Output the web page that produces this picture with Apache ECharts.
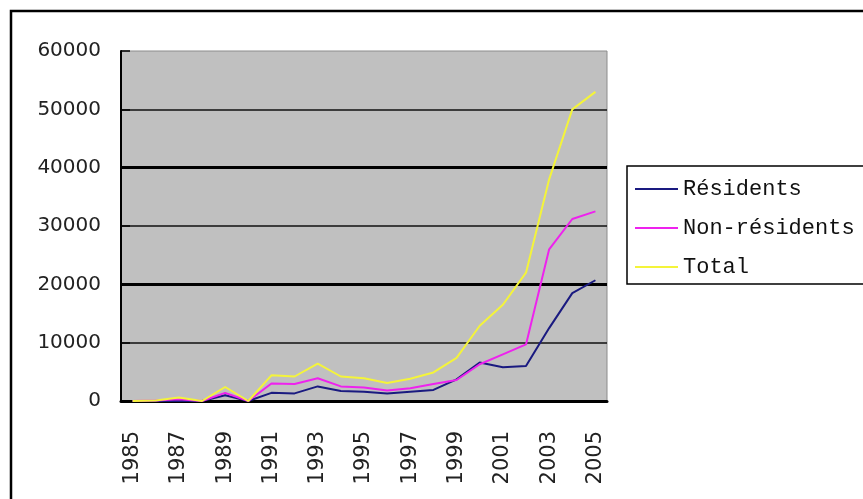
<!DOCTYPE html>
<html>
<head>
<meta charset="utf-8">
<script src="https://cdn.jsdelivr.net/npm/echarts@6/dist/echarts.min.js"></script>
<style>
  html, body { margin: 0; padding: 0; background: #ffffff; }
  #chart { width: 863px; height: 499px; }
</style>
</head>
<body>
<div id="chart"></div>
<script>
// Years on the category axis
const years = ['1985','1986','1987','1988','1989','1990','1991','1992','1993','1994','1995',
               '1996','1997','1998','1999','2000','2001','2002','2003','2004','2005'];

// Series values per year
const residents    = [0, 0, 0, 0, 1000, 0, 1400, 1300, 2500, 1700, 1600, 1300, 1600, 1900, 3700, 6600, 5800, 6000, 12500, 18500, 20700];
const nonResidents = [0, 100, 300, 0, 1400, 0, 3000, 2900, 3900, 2500, 2300, 1800, 2200, 2900, 3600, 6300, 8000, 9700, 26000, 31200, 32500];
const total        = [0, 100, 600, 0, 2400, 0, 4400, 4200, 6400, 4200, 3900, 3100, 3800, 4900, 7400, 12900, 16500, 22000, 38000, 50000, 53000];

// Legend labels
const seriesNames = ['Résidents', 'Non-résidents', 'Total'];

const chart = echarts.init(document.getElementById('chart'), null, { renderer: 'canvas' });

const lineSeries = (name, data, color) => ({
  name,
  type: 'line',
  data,
  yAxisIndex: 0,
  showSymbol: false,
  symbol: 'none',
  lineStyle: { color, width: 2 },
  itemStyle: { color },
  z: 3
});

chart.setOption({
  animation: false,
  backgroundColor: '#ffffff',
  graphic: [{
    type: 'rect',
    shape: { x: 11, y: 11, width: 900, height: 600 },
    style: { fill: 'none', stroke: '#000000', lineWidth: 2.5 },
    z: 10
  }],
  grid: {
    left: 121, top: 51, right: 256, bottom: 98,
    show: true,
    backgroundColor: '#c0c0c0',
    borderColor: '#8c8c8c',
    borderWidth: 1
  },
  legend: {
    data: seriesNames,
    orient: 'vertical',
    left: 627,
    top: 166,
    padding: [12, 40, 6, 8],
    itemGap: 17,
    itemWidth: 43,
    itemHeight: 2,
    icon: 'rect',
    borderColor: '#000000',
    borderWidth: 1.5,
    backgroundColor: '#ffffff',
    textStyle: {
      fontFamily: 'Liberation Mono',
      fontSize: 22,
      lineHeight: 22,
      color: '#111111'
    }
  },
  xAxis: {
    type: 'category',
    data: years,
    boundaryGap: true,
    axisLine: { lineStyle: { color: '#000000', width: 3 } },
    axisTick: { inside: true, length: 7, interval: 0, lineStyle: { color: '#000000', width: 2 } },
    axisLabel: {
      interval: 1,
      rotate: 90,
      margin: 30,
      fontFamily: 'DejaVu Sans',
      fontSize: 21,
      color: '#222222'
    },
    splitLine: { show: false }
  },
  yAxis: [{
    type: 'value',
    min: 0,
    max: 60000,
    interval: 10000,
    axisLine: { show: true, lineStyle: { color: '#000000', width: 2 } },
    axisTick: { show: true, inside: true, length: 9, lineStyle: { color: '#000000', width: 1.5 } },
    axisLabel: {
      margin: 20,
      fontFamily: 'DejaVu Sans',
      fontSize: 20,
      color: '#222222',
      formatter: v => String(v)
    },
    splitLine: { show: true, showMaxLine: false, lineStyle: { color: '#111111', width: 1.5 } }
  }, {
    // heavier rules every 20000
    type: 'value',
    position: 'left',
    min: 0,
    max: 60000,
    interval: 20000,
    axisLine: { show: false },
    axisTick: { show: false },
    axisLabel: { show: false },
    splitLine: { show: true, showMinLine: false, showMaxLine: false, lineStyle: { color: '#000000', width: 3 } }
  }],
  series: [
    lineSeries(seriesNames[0], residents, '#1a1a80'),
    lineSeries(seriesNames[1], nonResidents, '#ee22ee'),
    lineSeries(seriesNames[2], total, '#f4f43a')
  ]
});
</script>
</body>
</html>
